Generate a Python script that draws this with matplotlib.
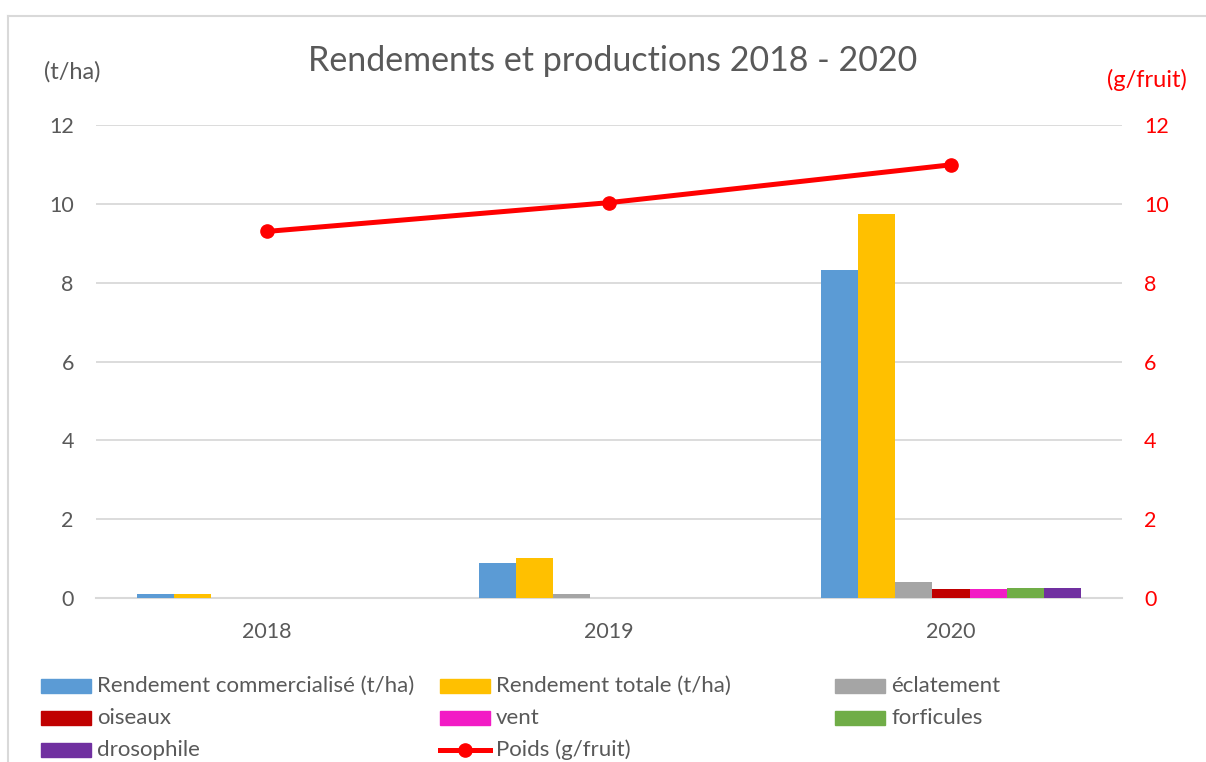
import matplotlib
matplotlib.use("Agg")
import matplotlib.pyplot as plt
import numpy as np
from matplotlib.lines import Line2D
from matplotlib.patches import Rectangle

plt.rcParams['font.family'] = ['Lato', 'DejaVu Sans']

# data
years = ["2018", "2019", "2020"]
commercialise = [0.1, 0.9, 8.32]
totale = [0.1, 1.01, 9.75]
eclatement = [0.0, 0.1, 0.41]
oiseaux = [0.0, 0.0, 0.24]
vent = [0.0, 0.0, 0.24]
forficules = [0.0, 0.0, 0.25]
drosophile = [0.0, 0.0, 0.25]
poids = [9.3, 10.03, 10.99]

series = [
    ("Rendement commercialisé (t/ha)", commercialise, "#5B9BD5"),
    ("Rendement totale (t/ha)", totale, "#FFC000"),
    ("éclatement", eclatement, "#A5A5A5"),
    ("oiseaux", oiseaux, "#C00000"),
    ("vent", vent, "#F21BC5"),
    ("forficules", forficules, "#70AD47"),
    ("drosophile", drosophile, "#7030A0"),
]
grey_txt = "#595959"

W, H = 1206, 762
fig = plt.figure(figsize=(W / 100, H / 100), dpi=100)
ax = fig.add_axes([96 / W, 1 - 598 / H, (1122 - 96) / W, (598 - 125) / H])

x = np.arange(len(years))
bw = 0.109
n = len(series)
for i, (lab, vals, col) in enumerate(series):
    ax.bar(x + (i - (n - 1) / 2) * bw, vals, width=bw, color=col, zorder=3)

ax.set_xlim(-0.5, 2.5)
ax.set_ylim(0, 12)
ax.set_yticks(range(0, 13, 2))
ax.set_xticks(x)
ax.set_xticklabels(years)
ax.yaxis.grid(True, color="#D9D9D9", lw=1.3, zorder=0)
for s in ["top", "right", "left"]:
    ax.spines[s].set_visible(False)
ax.spines["bottom"].set_color("#D9D9D9")
ax.spines["bottom"].set_linewidth(1.5)
ax.tick_params(axis="both", length=0, labelsize=15.5, labelcolor=grey_txt)
ax.tick_params(axis="y", pad=16)
ax.tick_params(axis="x", pad=17)

ax2 = ax.twinx()
ax2.plot(x, poids, color="#FF0000", lw=3.6, marker="o", ms=9.5, zorder=5)
ax2.set_ylim(0, 12)
ax2.set_yticks(range(0, 13, 2))
for s in ax2.spines.values():
    s.set_visible(False)
ax2.tick_params(axis="y", length=0, labelsize=15.5, labelcolor="#FF0000", pad=16)

# titles / units
fig.text(613 / W, 1 - 61 / H, "Rendements et productions 2018 - 2020",
         ha="center", va="center", fontsize=24.5, color=grey_txt)
fig.text(72 / W, 1 - 72 / H, "(t/ha)", ha="center", va="center",
         fontsize=17, color=grey_txt)
fig.text(1147 / W, 1 - 80 / H, "(g/fruit)", ha="center", va="center",
         fontsize=17, color="#FF0000")

# legend (3 columns)
col_x = [41, 440, 835]
row_y = [686, 718, 750]
entries = [(lab, col, "bar") for lab, _, col in series] + [("Poids (g/fruit)", "#FF0000", "line")]
for k, (lab, col, kind) in enumerate(entries):
    cx = col_x[k % 3]
    cy = row_y[k // 3]
    if kind == "bar":
        fig.patches.append(Rectangle((cx / W, 1 - (cy + 7) / H), 50 / W, 14 / H,
                                     transform=fig.transFigure, color=col))
    else:
        fig.lines.append(Line2D([cx / W, (cx + 50) / W], [1 - cy / H, 1 - cy / H],
                                transform=fig.transFigure, color=col, lw=3.6))
        fig.lines.append(Line2D([(cx + 25) / W], [1 - cy / H], transform=fig.transFigure,
                                color=col, marker="o", ms=9.5))
    fig.text((cx + 56) / W, 1 - cy / H, lab, ha="left", va="center",
             fontsize=16, color=grey_txt)

# chart frame
fig.lines.append(Line2D([8 / W, 8 / W], [0, 1 - 16 / H], transform=fig.transFigure,
                        color="#D9D9D9", lw=1.5))
fig.lines.append(Line2D([8 / W, 1], [1 - 16 / H, 1 - 16 / H], transform=fig.transFigure,
                        color="#D9D9D9", lw=1.5))

fig.savefig("out.png", dpi=100)
